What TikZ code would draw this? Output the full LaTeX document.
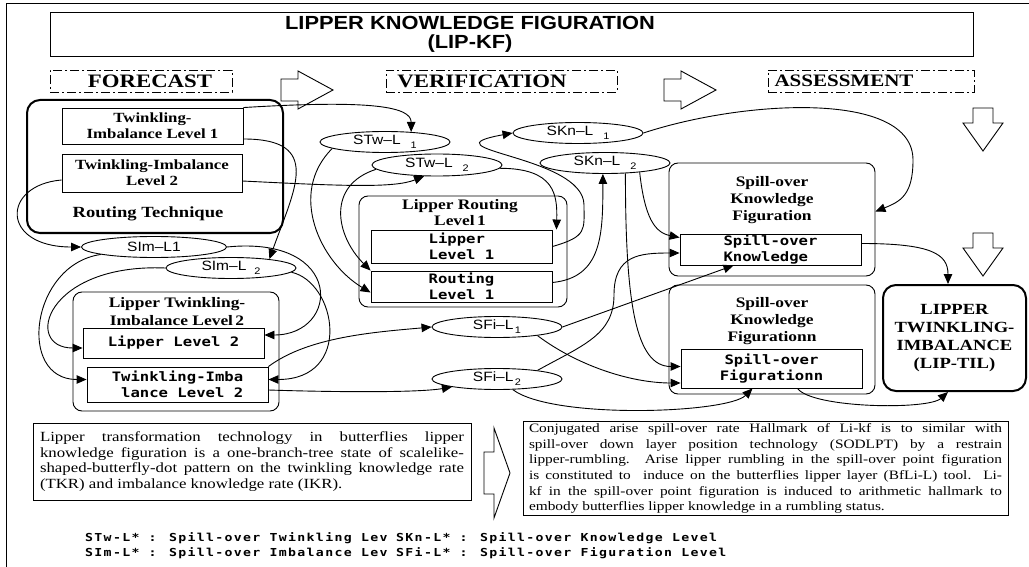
\documentclass[tikz,border=0pt]{standalone}
\usepackage{fontspec}
\setmainfont{Liberation Serif}[FakeStretch=1.2]
\setsansfont{Liberation Sans}[FakeStretch=1.15]
\setmonofont{DejaVu Sans Mono}[FakeStretch=1.2]
\newfontfamily\legendfont{DejaVu Sans Mono}[FakeStretch=1.2,LetterSpace=12]
\usetikzlibrary{arrows.meta,shapes.geometric}

\newcommand{\fsz}[2]{\fontsize{#1}{#2}\selectfont}
\newcommand{\lsub}[2][8pt]{\hspace{#1}\raisebox{-4pt}{\fsz{9.5}{9.5}#2}}

\begin{document}
\begin{tikzpicture}[x=1pt,y=-1pt,
  flow/.style={-{Triangle[length=10pt,width=8.5pt]},line width=0.9pt},
  pbox/.style={draw,line width=0.9pt,inner sep=0pt},
  grp/.style={draw,line width=0.9pt,rounded corners=9pt,inner sep=0pt},
  thickgrp/.style={draw,line width=2pt,rounded corners=13pt,inner sep=0pt},
  lvl/.style={draw,ellipse,line width=0.9pt,inner sep=0pt,minimum width=130pt,minimum height=21pt,font=\sffamily\fsz{13.5}{14}},
  phase/.style={draw,line width=0.9pt,dash pattern=on 9pt off 3pt on 2pt off 3pt,minimum height=22pt,inner sep=0pt},
  phaselab/.style={font=\bfseries\fsz{19}{19}},
  lab/.style={font=\bfseries\fsz{14.5}{17},align=center},
  mono/.style={font=\ttfamily\bfseries\fsz{13}{15.5}},
  bigarrow/.style={draw,line width=0.9pt,fill=white}]
\useasboundingbox (0,0) rectangle (1029,567);
\draw[line width=0.9pt] (6,567) -- (6,3) -- (1029,3);

% title and phases
\node[pbox,minimum width=923pt,minimum height=44pt] (titlebox) at (511.5,34) {};
\node[font=\sffamily\bfseries\fsz{19}{19},align=center] (title) at (470,34) {LIPPER KNOWLEDGE FIGURATION\\(LIP-KF)};
\node[phase,minimum width=182pt] (forecast) at (141,81) {};
\node[phaselab] (forecastlab) at (150,81) {FORECAST};
\node[phase,minimum width=231pt] (verif) at (501.5,81) {};
\node[phaselab] (veriflab) at (482,81) {VERIFICATION};
\node[phase,minimum width=206pt] (assess) at (871,81) {};
\node[phaselab,font=\bfseries\fsz{17.5}{18}] (assesslab) at (844,81) {ASSESSMENT};
\foreach \ax in {281,664}
  \draw[bigarrow] (\ax,79) -- ++(17,0) -- ++(0,-8) -- ++(35,19) -- ++(-35,19) -- ++(0,-8) -- ++(-17,0) -- cycle;
\foreach \ay in {108,233}
  \draw[bigarrow] (973,\ay) -- ++(20,0) -- ++(0,15) -- ++(10,0) -- ++(-20,28) -- ++(-20,-28) -- ++(10,0) -- cycle;

% forecast
\node[thickgrp,minimum width=256pt,minimum height=133pt] (routtech) at (155,166.5) {};
\node[lab,font=\bfseries\fsz{15.5}{17}] (routtechlab) at (148,214) {Routing Technique};
\node[pbox,lab,font=\bfseries\fsz{14}{16},minimum width=181pt,minimum height=36pt] (til1) at (152.5,126) {Twinkling-\\Imbalance Level 1};
\node[pbox,lab,font=\bfseries\fsz{14}{16},minimum width=180pt,minimum height=38pt] (til2) at (152,173) {Twinkling-Imbalance\\Level 2};
\node[lvl,minimum width=145pt] (sim1) at (154,247) {SIm--L1};
\node[lvl] (sim2) at (231,268) {SIm--L\lsub{2}};
\node[grp,minimum width=206pt,minimum height=119pt] (ltigrp) at (176,351.5) {};
\node[lab,font=\bfseries\fsz{14.5}{18}] (ltilab) at (177,312) {Lipper Twinkling-\\Imbalance Level\,2};
\node[pbox,mono,minimum width=181pt,minimum height=30pt] (ll2) at (173.5,343) {Lipper Level 2};
\node[pbox,mono,align=right,minimum width=181pt,minimum height=35pt] (twi2) at (177.5,384.5) {Twinkling-Imba\\lance Level 2};

% verification
\node[lvl] (stw1) at (385,142) {STw--L\lsub[10pt]{1}};
\node[lvl,minimum height=22pt] (stw2) at (437,165) {STw--L\lsub[10pt]{2}};
\node[grp,minimum width=208pt,minimum height=111pt] (lrgrp) at (463,251.5) {};
\node[lab,font=\bfseries\fsz{14.5}{16}] (lrlab) at (460,213) {Lipper Routing\\Level\,1};
\node[pbox,mono,align=left,minimum width=181pt,minimum height=33pt] (lipl1) at (461.5,246.5) {Lipper\\Level 1};
\node[pbox,mono,align=left,minimum width=181pt,minimum height=31pt] (roul1) at (461.5,286.5) {Routing\\Level 1};
\node[lvl] (skn1) at (578,133) {SKn--L\lsub[10pt]{1}};
\node[lvl] (skn2) at (605,163) {SKn--L\lsub[10pt]{2}};
\node[lvl] (sfi1) at (497,327) {SFi--L\lsub[1.5pt]{1}};
\node[lvl] (sfi2) at (497,379) {SFi--L\lsub[1.5pt]{2}};

% assessment
\node[grp,minimum width=206pt,minimum height=113pt] (spkf) at (772,219.5) {};
\node[lab] (spkflab) at (772,200) {Spill-over\\Knowledge\\Figuration};
\node[pbox,mono,align=left,minimum width=181pt,minimum height=31pt] (spk) at (770.5,249.5) {Spill-over\\Knowledge};
\node[grp,minimum width=206pt,minimum height=109pt] (spff) at (772,339.5) {};
\node[lab] (spfflab) at (772,321) {Spill-over\\Knowledge\\Figurationn};
\node[pbox,mono,align=center,minimum width=181pt,minimum height=39pt] (spf) at (771.5,368.5) {Spill-over\\Figurationn};
\node[thickgrp,lab,font=\bfseries\fsz{15.5}{18},minimum width=143pt,minimum height=106pt] (liptil) at (954.5,338) {LIPPER\\TWINKLING-\\IMBALANCE\\(LIP-TIL)};

% connectors
\draw[flow] (til1.north east) .. controls +(130,-8) and +(0,-25) .. (stw1.21);
\draw[flow] ([yshift=-13pt]til1.east) .. controls +(80,0) and +(25,-70) .. (sim2.13);
\draw[flow] ([yshift=-7pt]til2.west) .. controls +(-60,5) and +(-81,0) .. (sim1.west);
\draw[flow] ([yshift=-8pt]til2.east) .. controls +(100,5) and +(-30,12) .. (stw2.221);
\draw[flow] (stw1.187) .. controls +(-45,45) and +(-50,-30) .. ([yshift=-6pt]roul1.west);
\draw[flow] (stw2.184) .. controls +(-50,16) and +(-35,-35) .. (roul1.north west);
\draw[flow] (stw2.-3) .. controls +(55,0) and +(1,-35) .. ([xshift=4pt]lipl1.north east);
\draw[flow] (lipl1.east) .. controls +(35,-10) and +(0,25) .. (584,205) .. controls +(0,-50) and +(-93,17) .. (skn1.west);
\draw[flow] ([yshift=4pt]roul1.east) .. controls +(50,-5) and +(0,60) .. (skn2.259);
\draw[flow] (skn1.east) .. controls +(100,-33) and +(0,-70) .. (913,160) .. controls +(0,35) and +(25,-10) .. ([yshift=8pt]spkf.east);
\draw[flow] (skn2.-15) .. controls +(5,45) and +(-25,-5) .. ([yshift=12pt]spk.west);
\draw[flow] (skn2.-27) .. controls +(0,130) and +(-45,0) .. ([yshift=2pt]spf.west);
\draw[flow] (sfi2.12) .. controls +(45,-25) and +(0,40) .. (614,295) .. controls +(0,-40) and +(-40,0) .. ([yshift=-3.5pt]spk.west);
\draw[flow] (sfi1.east) -- ([xshift=-37pt]spk.south);
\draw[flow] (sfi1.-12) .. controls +(40,30) and +(-50,0) .. ([yshift=-14.5pt]spf.west);
\draw[flow] (sfi2.-34) .. controls +(40,30) and +(-25,25) .. ([xshift=-19pt]spf.south);
\draw[flow] ([xshift=26pt]spf.south) .. controls +(15,20) and +(-20,18) .. ([xshift=-6.5pt]liptil.south);
\draw[flow] ([yshift=6pt]spk.east) .. controls +(70,0) and +(0,-30) .. ([xshift=-6.5pt]liptil.north);
\draw[flow] (sim1.east) .. controls +(118,-12) and +(76,0) .. ([yshift=8pt]ll2.east);
\draw[flow] (sim1.188) .. controls +(-70,10) and +(-70,0) .. ([yshift=5pt]twi2.west);
\draw[flow] (sim2.west) .. controls +(-120,-5) and +(-60,0) .. ([yshift=-5pt]ll2.west);
\draw[flow] (sim2.-4) .. controls +(45,10) and +(85,0) .. ([yshift=5pt]twi2.east);
\draw[flow] (twi2.north east) .. controls +(40,-30) and +(-55,5) .. (sfi1.west);
\draw[flow] ([yshift=-5.5pt]twi2.east) .. controls +(60,2) and +(-35,6) .. (sfi2.190);

% notes and legend
\node[pbox,text width=424pt,inner xsep=7pt,inner ysep=6pt,align=justify,font=\fsz{14}{15.5},minimum height=77pt] (noteleft) at (252,461.5) {Lipper transformation technology in butterflies lipper\linebreak knowledge figuration is a one-branch-tree state of scalelike-\linebreak shaped-butterfly-dot pattern on the twinkling knowledge rate\linebreak (TKR) and imbalance knowledge rate (IKR).};
\draw[bigarrow] (484,452) -- (494,452) -- (494,428) -- (510,473) -- (494,518) -- (494,494) -- (484,494) -- cycle;
\node[pbox,text width=473pt,inner xsep=6pt,inner ysep=2pt,align=justify,font=\fsz{12.8}{15.6},minimum height=93pt] (noteright) at (765.5,468.5) {Conjugated arise spill-over rate Hallmark of Li-kf is to similar with\linebreak spill-over down layer position technology (SODLPT) by a restrain\linebreak lipper-rumbling. Arise lipper rumbling in the spill-over point figuration\linebreak is constituted to~ induce on the butterflies lipper layer (BfLi-L) tool. Li-\linebreak kf in the spill-over point figuration is induced to arithmetic hallmark to\linebreak embody butterflies lipper knowledge in a rumbling status.};
\node[anchor=west,inner sep=0pt,font=\legendfont\bfseries\fsz{11}{12}] (leg1) at (85,538) {STw-L* : Spill-over Twinkling Lev};
\node[anchor=west,inner sep=0pt,font=\legendfont\bfseries\fsz{11}{12}] (leg2) at (396,538) {SKn-L* : Spill-over Knowledge Level};
\node[anchor=west,inner sep=0pt,font=\legendfont\bfseries\fsz{11}{12}] (leg3) at (85,553) {SIm-L* : Spill-over Imbalance Lev};
\node[anchor=west,inner sep=0pt,font=\legendfont\bfseries\fsz{11}{12}] (leg4) at (396,553) {SFi-L* : Spill-over Figuration Level};
\end{tikzpicture}
\end{document}
